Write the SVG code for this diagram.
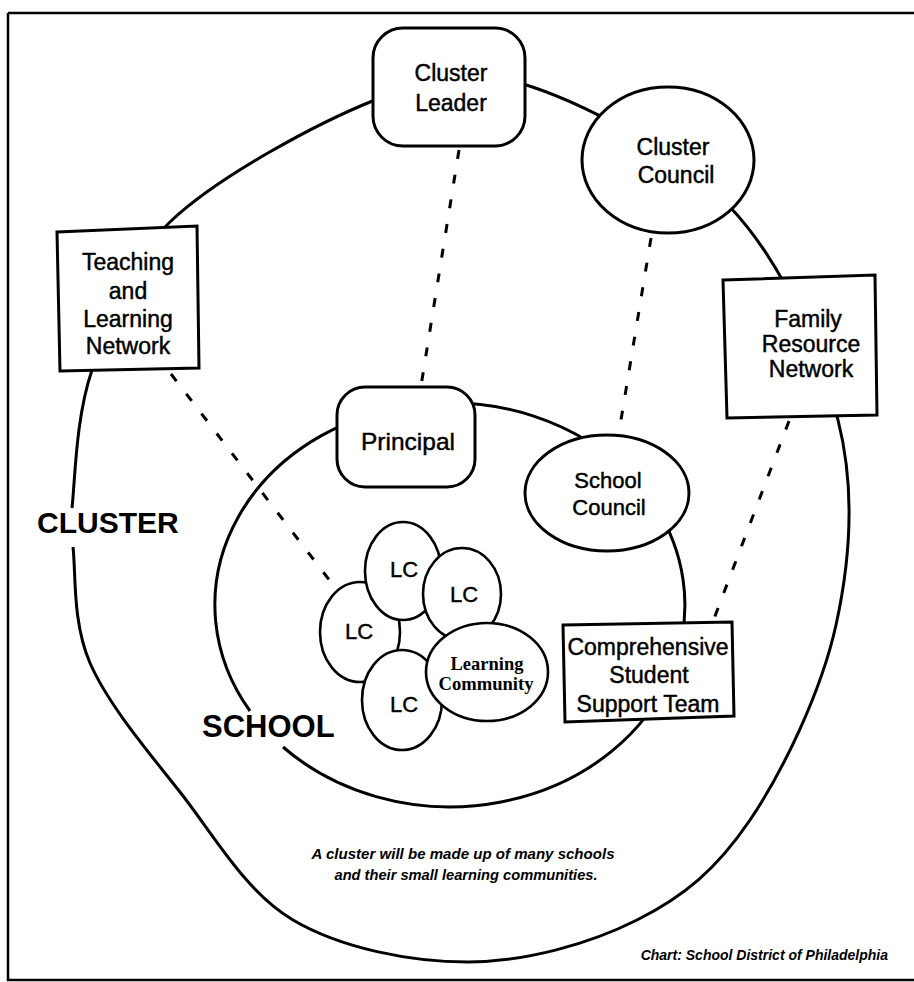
<svg xmlns="http://www.w3.org/2000/svg" width="914" height="982" viewBox="0 0 914 982">
  <style>
    .ring { fill: none; stroke: #000; stroke-width: 3; }
    .shape { fill: #fff; stroke: #000; stroke-width: 3; }
    .thin { fill: #fff; stroke: #000; stroke-width: 2.6; }
    .dots { fill: none; stroke: #000; stroke-width: 3; stroke-dasharray: 9 16; }
    .frame { fill: none; stroke: #000; stroke-width: 2.5; }
    .lbl { font-family: "Liberation Sans", Arial, sans-serif; font-size: 23px; fill: #000; stroke: #000; stroke-width: 0.45; text-anchor: middle; }
    .lc { font-family: "Liberation Sans", Arial, sans-serif; font-size: 22px; fill: #000; stroke: #000; stroke-width: 0.4; text-anchor: middle; }
    .serif { font-family: "Liberation Serif", "Times New Roman", serif; font-size: 19px; font-weight: bold; fill: #000; text-anchor: middle; }
    .big { font-family: "Liberation Sans", Arial, sans-serif; font-weight: bold; fill: #000; }
    .note { font-family: "Liberation Sans", Arial, sans-serif; font-style: italic; font-weight: bold; font-size: 15px; fill: #000; }
  </style>

  <rect width="914" height="982" fill="#fff"/>

  <!-- page frame -->
  <path class="frame" d="M8,13 H914 M8,13 V980 H914"/>

  <!-- cluster ring (open at the CLUSTER label) -->
  <path id="cluster-ring" class="ring" d="M72,508 C75.2,478.5 75.7,417.7 92,370 C108.3,322.3 122.8,267 170,222 C217.2,177 316.7,123.2 375,100 C433.3,76.8 460.8,65.2 520,83 C579.2,100.8 677,150.8 730,207 C783,263.2 820.3,350.3 838,420 C855.7,489.7 850.7,558.3 836,625 C821.3,691.7 783.2,770.8 750,820 C716.8,869.2 684,896.3 637,920 C590,943.7 525.3,962 468,962 C410.7,962 341,948.3 293,920 C245,891.7 213.8,834.8 180,792 C146.2,749.2 107.8,703.8 90,663 C72.2,622.2 76,572.8 73,547"/>

  <!-- school ring (open at the SCHOOL label) -->
  <path id="school-ring" class="ring" d="M283,747 A235,202 0 1 0 250,711"/>

  <!-- dotted links -->
  <g id="connectors">
    <line class="dots" x1="459" y1="150" x2="421" y2="386"/>
    <line class="dots" x1="651" y1="238" x2="619" y2="432"/>
    <line class="dots" x1="171" y1="374" x2="337" y2="590"/>
    <line class="dots" x1="789" y1="421" x2="712" y2="624"/>
  </g>

  <g id="cluster-leader">
    <rect class="shape" x="373" y="28" width="152" height="118" rx="30"/>
    <text class="lbl" x="451" y="81">Cluster</text>
    <text class="lbl" x="451" y="111">Leader</text>
  </g>

  <g id="cluster-council">
    <ellipse class="shape" cx="668" cy="160" rx="86" ry="73"/>
    <text class="lbl" x="673" y="155">Cluster</text>
    <text class="lbl" x="676" y="183">Council</text>
  </g>

  <g id="teaching-learning-network">
    <polygon class="shape" points="57,232 197,226 199,368 60,371"/>
    <text class="lbl" x="128" y="270">Teaching</text>
    <text class="lbl" x="128" y="299">and</text>
    <text class="lbl" x="128" y="327">Learning</text>
    <text class="lbl" x="128" y="354">Network</text>
  </g>

  <g id="family-resource-network">
    <polygon class="shape" points="723,280 875,275 877,415 727,418"/>
    <text class="lbl" x="808" y="327">Family</text>
    <text class="lbl" x="811" y="352">Resource</text>
    <text class="lbl" x="811" y="377">Network</text>
  </g>

  <g id="principal">
    <rect class="shape" x="337" y="387" width="138" height="100" rx="28"/>
    <text class="lbl" x="408" y="450" style="font-size:24.5px">Principal</text>
  </g>

  <g id="school-council">
    <ellipse class="shape" cx="607" cy="493" rx="82" ry="58"/>
    <text class="lbl" x="608" y="488" style="font-size:22px">School</text>
    <text class="lbl" x="609" y="515" style="font-size:22px">Council</text>
  </g>

  <g id="student-support-team">
    <polygon class="shape" points="563,625 732,622 734,716 565,722"/>
    <text class="lbl" x="648" y="655">Comprehensive</text>
    <text class="lbl" x="649" y="683">Student</text>
    <text class="lbl" x="648" y="712">Support Team</text>
  </g>

  <!-- learning communities -->
  <g id="lc-left">
    <ellipse class="thin" cx="360" cy="632" rx="40" ry="50"/>
    <text class="lc" x="359" y="639">LC</text>
  </g>
  <g id="lc-top">
    <ellipse class="thin" cx="403" cy="571" rx="38" ry="49"/>
    <text class="lc" x="404" y="577">LC</text>
  </g>
  <g id="lc-right">
    <ellipse class="thin" cx="462" cy="594" rx="39" ry="46"/>
    <text class="lc" x="464" y="602">LC</text>
  </g>
  <g id="lc-bottom">
    <ellipse class="thin" cx="402" cy="700" rx="40" ry="50"/>
    <text class="lc" x="404" y="712">LC</text>
  </g>
  <g id="learning-community">
    <ellipse class="thin" cx="487" cy="672" rx="61" ry="49"/>
    <text class="serif" x="487" y="670" textLength="73" lengthAdjust="spacingAndGlyphs">Learning</text>
    <text class="serif" x="486" y="690" textLength="95" lengthAdjust="spacingAndGlyphs">Community</text>
  </g>

  <!-- ring labels -->
  <text class="big" x="37" y="533" style="font-size:30px">CLUSTER</text>
  <text class="big" x="202" y="737" style="font-size:31px">SCHOOL</text>

  <!-- caption and credit -->
  <text class="note" x="463" y="859" text-anchor="middle" textLength="303" lengthAdjust="spacingAndGlyphs">A cluster will be made up of many schools</text>
  <text class="note" x="466" y="880" text-anchor="middle" textLength="263" lengthAdjust="spacingAndGlyphs">and their small learning communities.</text>
  <text class="note" x="888" y="960" text-anchor="end" style="font-size:14px">Chart: School District of Philadelphia</text>
</svg>
